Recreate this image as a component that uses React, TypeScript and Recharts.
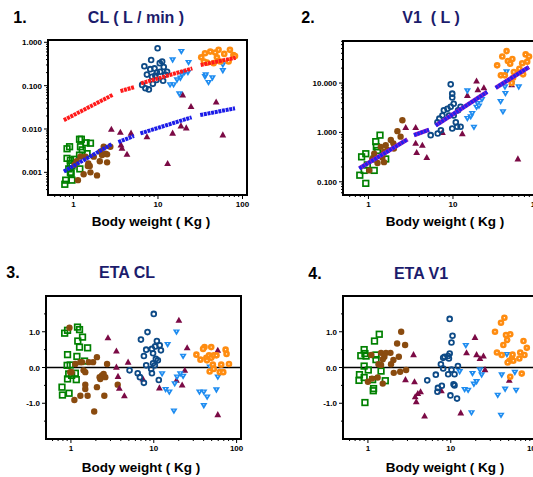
import React from "react";
import {
  ScatterChart,
  Scatter,
  XAxis,
  YAxis,
  ReferenceArea,
  ReferenceLine,
} from "recharts";

// body weight axis (shared by all 4 panels)
const wtMajor = [1, 10, 100];
const wtTicks = [0.6, 0.7, 0.8, 0.9, 1, 2, 3, 4, 5, 6, 7, 8, 9, 10, 20, 30, 40, 50, 60, 70, 80, 90, 100];

// panel 1: CL (L/min), [weight, value]
const clGreen = [[0.81, 0.00066], [0.79, 0.00053], [0.96, 0.00066], [0.84, 0.0035], [0.9, 0.0039], [0.84, 0.0021], [0.92, 0.0019], [0.88, 0.0012], [0.94, 0.00095], [0.92, 0.0016], [1.18, 0.0058], [1.24, 0.0058], [1.21, 0.0039], [1.27, 0.0033], [1.41, 0.0048], [1.18, 0.0025], [1.45, 0.0027], [1.19, 0.0012], [1.03, 0.002], [0.96, 0.0014], [1.59, 0.0047], [0.92, 0.001]];
const clBrown = [[1.13, 0.00066], [1.32, 0.0009], [1.56, 0.0014], [1.74, 0.0023], [1.9, 0.00085], [1.5, 0.0016], [1.39, 0.0023], [2.08, 0.003], [2.28, 0.0039], [2.05, 0.0018], [2.5, 0.0017], [2.4, 0.0027], [2.18, 0.0025], [2.73, 0.0039], [1.09, 0.0018], [1.21, 0.0023], [1.59, 0.001], [2.5, 0.0026], [1.03, 0.0015], [1.48, 0.0014]];
const clMaroon = [[2.81, 0.0098], [3.59, 0.0084], [3.65, 0.0043], [3.75, 0.0036], [4.3, 0.0026], [4.8, 0.008], [7.4, 0.0066], [13.0, 0.0016], [14.9, 0.008], [19.6, 0.061], [18.7, 0.0118], [21.6, 0.0106], [24.6, 0.033], [48.8, 0.042], [58.5, 0.0073]];
const clNavy = [[9.9, 0.73], [8.3, 0.39], [6.9, 0.28], [8.1, 0.24], [7.4, 0.18], [9.7, 0.2], [10.5, 0.33], [11.2, 0.36], [11.7, 0.27], [9.1, 0.25], [8.5, 0.16], [9.6, 0.135], [11.5, 0.13], [7.1, 0.087], [7.8, 0.082], [6.5, 0.104], [9.3, 0.17], [10.6, 0.21], [12.2, 0.18], [12.8, 0.21], [8.7, 0.11]];
const clSky = [[18.9, 0.61], [14.9, 0.39], [23, 0.34], [13.9, 0.104], [15.3, 0.104], [17.9, 0.064], [18.4, 0.148], [20.6, 0.2], [16.8, 0.135], [22.6, 0.2], [36, 0.16], [39.6, 0.117], [44, 0.15], [36.7, 0.176], [58.5, 0.3], [58.5, 0.22], [19.2, 0.176]];
const clOrange = [[32.5, 0.45], [36, 0.56], [41.6, 0.61], [47.5, 0.58], [52.1, 0.67], [60.8, 0.54], [71, 0.67], [78, 0.51], [38, 0.34], [45.5, 0.33], [54.5, 0.36], [68.5, 0.36], [81.5, 0.48], [35, 0.36], [49.8, 0.45]];
const clRedSegs = [
  [[0.77, 0.016], [2.9, 0.061]],
  [[3.6, 0.075], [5.2, 0.092]],
  [[6.3, 0.113], [25.5, 0.25]],
  [[32, 0.3], [83, 0.44]],
];
const clBlueSegs = [
  [[0.77, 0.00105], [2.86, 0.0045]],
  [[3.4, 0.005], [5.2, 0.0069]],
  [[6.2, 0.0079], [25, 0.0186]],
  [[31.6, 0.021], [81.5, 0.03]],
];

// panel 2: V1 (L)
const v1Green = [[0.79, 0.136], [0.93, 0.093], [0.83, 0.32], [0.93, 0.37], [1.17, 0.29], [1.37, 0.88], [1.22, 0.65], [1.28, 0.43], [1.17, 0.17], [0.97, 0.22], [1.6, 0.29], [0.89, 0.17], [1.24, 0.51]];
const v1Brown = [[2.52, 1.76], [2.2, 1.06], [1.84, 0.7], [1.6, 0.55], [1.4, 0.51], [1.53, 0.4], [1.28, 0.24], [1.53, 0.25], [1.17, 0.37], [1.02, 0.17], [2.0, 0.47], [2.4, 0.82], [1.46, 0.31], [1.97, 0.6], [1.68, 0.44], [1.11, 0.29]];
const v1Maroon = [[2.76, 1.25], [3.62, 1.25], [3.62, 0.6], [3.72, 0.39], [4.34, 0.55], [4.9, 0.31], [7.5, 1.0], [12.9, 0.94], [14.8, 5.6], [19.0, 11.0], [19.7, 7.3], [23.2, 8.0], [49.5, 9.2], [58.6, 0.29]];
const v1Navy = [[9.4, 9.4], [9.8, 6.1], [9.8, 5.1], [10.2, 3.8], [9.4, 3.3], [8.6, 3.0], [7.8, 2.8], [7.5, 2.2], [6.9, 1.9], [6.55, 1.6], [9.0, 2.2], [10.2, 2.2], [11.5, 2.8], [12.3, 3.3], [6.6, 0.95], [5.45, 0.88], [9.8, 1.2], [11.2, 1.3], [12.3, 1.3], [10.8, 1.6], [7.2, 1.1]];
const v1Sky = [[14.8, 6.9], [19.6, 3.8], [19.0, 3.2], [20.3, 3.4], [16.2, 2.06], [17.7, 1.26], [14.8, 1.9], [36.6, 4.2], [39, 2.6], [41.7, 6.1], [43, 16.7], [41.2, 8.3], [60, 8.3], [49.5, 9.7], [22, 4.6], [16.9, 2.4]];
const v1Orange = [[33.3, 22.8], [38.3, 34.5], [43.1, 44.3], [44.6, 27.8], [50.4, 30.7], [47.5, 24.5], [36.9, 14.3], [41, 14.3], [51.4, 12.8], [55.2, 15.4], [65.9, 25.2], [72.4, 38], [79.3, 34.5], [75.5, 27.1], [67.5, 15], [61, 19.5], [49.5, 10], [52.5, 16.7]];
const v1Segs = [
  [[0.78, 0.186], [2.89, 0.72]],
  [[3.46, 0.88], [5.2, 1.13]],
  [[6.25, 1.38], [25.4, 6.6]],
  [[32, 8.0], [79, 21]],
];

// panel 3: ETA CL
const etaClGreen = [[0.84, 0.96], [0.91, 1.04], [1.2, 1.13], [1.27, 1.06], [1.38, 0.85], [1.21, 0.74], [1.27, 0.57], [1.59, 0.55], [1.18, 0.31], [0.91, 0.36], [1.46, 0.18], [0.9, 0.06], [0.98, 0.07], [0.94, -0.18], [1.02, -0.22], [1.13, -0.16], [1.16, -0.34], [0.91, -0.32], [0.78, -0.55], [0.79, -0.77], [0.95, -0.72]];
const etaClBrown = [[0.96, 1.11], [2.06, 0.29], [2.73, 0.1], [1.64, 0.15], [1.85, 0.15], [1.36, 0.15], [1.3, 0.15], [1.13, 0.1], [1.42, -0.08], [1.49, -0.13], [0.98, -0.13], [2.22, -0.27], [2.37, -0.22], [2.48, -0.18], [2.26, -0.32], [2.6, -0.27], [2.06, -0.55], [1.49, -0.48], [1.49, -0.6], [1.3, -0.79], [1.59, -0.79], [1.1, -0.91], [1.91, -1.23], [2.53, -0.79], [3.67, -0.48], [1.02, -0.13]];
const etaClMaroon = [[2.8, 0.83], [3.54, 0.46], [3.54, 0.01], [3.7, -0.25], [3.84, -0.58], [4.9, 0.15], [4.42, -0.79], [7.4, -0.32], [11.7, -0.57], [20.1, 1.32], [25.3, 0.55], [23.7, -0.08], [22, -0.49], [18.8, -0.36], [59.3, 0.48], [59.3, -1.32]];
const etaClNavy = [[10, 1.5], [8.4, 0.99], [7.0, 0.78], [10.9, 0.74], [10.4, 0.59], [11.8, 0.62], [8.1, 0.5], [9.5, 0.52], [9.8, 0.4], [12.2, 0.48], [7.6, 0.32], [10.6, 0.24], [11.2, 0.2], [9.8, 0.12], [10.3, 0.06], [8.1, 0.06], [9.3, -0.04], [5.1, -0.08], [6.4, -0.16], [6.8, -0.27], [7.6, -0.43], [9.5, -0.16], [11.5, -0.35]];
const etaClSky = [[18.8, 0.99], [14.7, 0.64], [22.6, 0.31], [12.6, -0.18], [13.9, -0.62], [15.4, -0.69], [17.5, -1.22], [17.9, -0.46], [19.1, -0.27], [20.9, -0.18], [22.6, -0.25], [35.6, -0.69], [40.2, -0.69], [44.1, -0.83], [40.2, -1.07], [59.3, -0.27], [57, -0.63], [47.5, 0.01]];
const etaClOrange = [[32.7, 0.36], [36.6, 0.22], [41, 0.57], [39.4, 0.52], [43.1, 0.27], [46.4, 0.34], [49.4, 0.27], [53, 0.34], [57.2, 0.34], [49.4, 0.57], [51.7, 0.08], [53, -0.04], [47.3, -0.11], [62.8, -0.13], [69, -0.13], [65.2, 0.08], [73.6, 0.5], [75.6, 0.38], [80.9, 0.1], [43.9, 0.2]];

// panel 4: ETA V1
const etaV1Green = [[1.37, 0.93], [1.2, 0.74], [0.9, 0.5], [0.92, 0.39], [0.82, 0.33], [0.95, 0.32], [1.25, 0.35], [1.25, 0.22], [0.9, 0.04], [1.01, -0.07], [0.79, -0.2], [0.78, -0.36], [0.9, -0.28], [1.14, -0.34], [1.44, -0.1], [1.62, -0.37], [1.17, -0.59], [1.16, -0.65], [0.92, -0.98]];
const etaV1Brown = [[2.52, 1.0], [2.25, 0.67], [2.81, 0.63], [2.36, 0.3], [1.44, 0.41], [1.65, 0.41], [1.87, 0.41], [1.58, 0.3], [1.51, 0.23], [1.34, 0.09], [1.44, 0.07], [1.9, 0.09], [2.03, 0.21], [1.1, 0.35], [2.45, -0.12], [2.05, -0.15], [2.89, -0.07], [1.31, -0.28], [1.51, -0.45], [1.12, -0.31], [1.0, -0.4]];
const etaV1Maroon = [[3.55, 0.36], [3.65, -0.4], [2.84, -0.34], [3.72, -0.82], [3.83, -0.96], [4.0, -0.73], [4.32, -0.68], [4.83, -1.36], [7.7, -0.65], [13.2, -1.27], [15.5, 0.41], [19.6, 0.84], [20.5, 0.36], [22.5, 0.25], [24.8, 0.32], [25.9, -0.06], [50.9, -0.36]];
const etaV1Navy = [[9.7, 1.36], [10.5, 0.89], [10.2, 0.7], [9.7, 0.39], [9.3, 0.32], [8.4, 0.3], [8.1, 0.27], [9.5, 0.25], [7.6, 0.09], [8.1, -0.03], [10.2, -0.06], [12.2, 0.04], [9.3, -0.19], [11.1, -0.19], [6.6, -0.2], [5.2, -0.36], [7.0, -0.57], [6.9, -0.68], [7.8, -0.51], [9.9, -0.78], [10.8, -0.47], [11.1, -0.5], [11.9, -0.87]];
const etaV1Sky = [[15.2, 0.61], [12.8, -0.12], [18.3, -0.17], [14.7, -0.62], [16.2, -0.64], [19.0, -0.47], [20.5, -0.4], [22.5, -0.07], [23.6, -0.21], [17.8, -1.27], [36.9, -0.78], [41.2, -0.21], [40.4, -1.34], [45.3, -0.61], [47.6, 0.36], [59.4, -0.14], [61.5, -0.64]];
const etaV1Orange = [[34.2, 1.0], [40.4, 1.25], [44.4, 1.39], [46.4, 0.91], [52.2, 0.93], [48.0, 0.77], [43.1, 0.63], [36.1, 0.42], [41.2, 0.35], [54.6, 0.25], [51.1, 0.19], [48.6, 0.14], [56.9, 0.19], [67.3, 0.25], [75.5, 0.74], [82.8, 0.55], [77.6, 0.35], [71.9, -0.17], [52.2, -0.26], [69, 0.42], [55.7, 0.36]];

const clYMajor = [0.001, 0.01, 0.1, 1];
const clYTicks = [0.0004, 0.0005, 0.0006, 0.0007, 0.0008, 0.0009, 0.001, 0.002, 0.003, 0.004, 0.005, 0.006, 0.007, 0.008, 0.009, 0.01, 0.02, 0.03, 0.04, 0.05, 0.06, 0.07, 0.08, 0.09, 0.1, 0.2, 0.3, 0.4, 0.5, 0.6, 0.7, 0.8, 0.9, 1];
const v1YMajor = [0.1, 1, 10];
const v1YTicks = [0.06, 0.07, 0.08, 0.09, 0.1, 0.2, 0.3, 0.4, 0.5, 0.6, 0.7, 0.8, 0.9, 1, 2, 3, 4, 5, 6, 7, 8, 9, 10, 20, 30, 40, 50, 60, 70];
const etaYMajor = [-1, 0, 1];
const etaYTicks = [-1.5, -1, -0.5, 0, 0.5, 1, 1.5];

const FONT = '"Liberation Sans", Arial, Helvetica, sans-serif';
const TITLE = "#1c1c6c";

const pts = (arr: number[][]) => arr.map(([x, y]) => ({ x, y }));

type Kind = "square" | "dot" | "tri" | "ring" | "down" | "blob";

function Marker({ kind, cx, cy }: { kind: Kind; cx: number; cy: number }) {
  if (cx == null || cy == null) return <g />;
  switch (kind) {
    case "square":
      return <rect x={cx - 2.8} y={cy - 2.8} width={5.6} height={5.6} fill="none" stroke="#008000" strokeWidth={1.7} />;
    case "dot":
      return <circle cx={cx} cy={cy} r={3.2} fill="#8a4b0f" />;
    case "tri":
      return <path d={`M${cx},${cy - 3.6}L${cx + 3.4},${cy + 2.5}L${cx - 3.4},${cy + 2.5}Z`} fill="#7b0a45" />;
    case "ring":
      return <circle cx={cx} cy={cy} r={2.4} fill="none" stroke="#0d4a86" strokeWidth={1.8} />;
    case "down":
      return (
        <g>
          <path d={`M${cx - 3.6},${cy - 2.7}L${cx + 3.6},${cy - 2.7}L${cx},${cy + 3.4}Z`} fill="#1e8cf0" />
          <circle cx={cx} cy={cy - 1} r={0.6} fill="#fff" />
        </g>
      );
    default:
      return (
        <g>
          <circle cx={cx} cy={cy} r={3.3} fill="#ff8c10" />
          <circle cx={cx} cy={cy} r={0.7} fill="#fff" />
        </g>
      );
  }
}

function WtTick(props: any) {
  const { x, y, payload } = props;
  const major = wtMajor.includes(payload.value);
  return (
    <g>
      <line x1={x} x2={x} y1={y} y2={y + (major ? 4 : 2)} stroke="#000" />
      {major && (
        <text x={x} y={y + 12} textAnchor="middle" fontSize={8} fontWeight="bold" fontFamily={FONT} fill="#000">
          {payload.value}
        </text>
      )}
    </g>
  );
}

const makeYTick = (majors: number[], digits: number) => (props: any) => {
  const { x, y, payload } = props;
  const major = majors.includes(payload.value);
  return (
    <g>
      <line x1={x} x2={x - (major ? 4 : 2)} y1={y} y2={y} stroke="#000" />
      {major && (
        <text x={x - 6} y={y + 3} textAnchor="end" fontSize={8} fontWeight="bold" fontFamily={FONT} fill="#000">
          {payload.value.toFixed(digits)}
        </text>
      )}
    </g>
  );
};

type Group = { data: number[][]; kind: Kind };
type LineStyle = { stroke: string; width: number; dash?: string };
type LineSet = { segs: number[][][]; styles: LineStyle[] };

interface PanelProps {
  left: number;
  top: number;
  width: number;
  height: number;
  yWidth: number;
  mTop: number;
  mRight: number;
  xHeight: number;
  log: boolean;
  yDomain: [number, number];
  yTicks: number[];
  yTick: (p: any) => React.ReactElement;
  groups: Group[];
  lines?: LineSet[];
  zero?: boolean;
}

function Panel(p: PanelProps) {
  const xDomain: [number, number] = [0.5, 113];
  return (
    <div style={{ position: "absolute", left: p.left, top: p.top }}>
      <ScatterChart
        width={p.width}
        height={p.height}
        margin={{ top: p.mTop, right: p.mRight, bottom: 0, left: 0 }}
      >
        <XAxis
          type="number"
          dataKey="x"
          scale="log"
          domain={xDomain}
          allowDataOverflow
          ticks={wtTicks}
          interval={0}
          height={p.xHeight}
          axisLine={false}
          tickLine={false}
          tickSize={0}
          tickMargin={0}
          tick={WtTick}
        />
        <YAxis
          type="number"
          dataKey="y"
          scale={p.log ? "log" : "linear"}
          domain={p.yDomain}
          allowDataOverflow
          ticks={p.yTicks}
          interval={0}
          width={p.yWidth}
          axisLine={false}
          tickLine={false}
          tickSize={0}
          tickMargin={0}
          tick={p.yTick}
        />
        {p.zero && <ReferenceLine y={0} stroke="#000" strokeWidth={1.5} />}
        {p.groups.map((g, i) => (
          <Scatter
            key={"g" + i}
            data={pts(g.data)}
            isAnimationActive={false}
            shape={(s: any) => <Marker kind={g.kind} cx={s.cx} cy={s.cy} />}
          />
        ))}
        {(p.lines || []).flatMap((ls, i) =>
          ls.styles.flatMap((st, j) =>
            ls.segs.map((seg, k) => (
              <Scatter
                key={`l${i}-${j}-${k}`}
                data={pts(seg)}
                isAnimationActive={false}
                line={{ stroke: st.stroke, strokeWidth: st.width, strokeDasharray: st.dash }}
                shape={() => <g />}
              />
            ))
          )
        )}
        <ReferenceArea
          x1={xDomain[0]}
          x2={xDomain[1]}
          y1={p.yDomain[0]}
          y2={p.yDomain[1]}
          fill="none"
          stroke="#000"
          strokeWidth={2}
        />
      </ScatterChart>
    </div>
  );
}

function Label({ x, y, text, size, color, bold = true }: { x: number; y: number; text: string; size: number; color: string; bold?: boolean }) {
  return (
    <div
      style={{
        position: "absolute",
        left: x,
        top: y,
        transform: "translate(-50%, -50%)",
        whiteSpace: "pre",
        fontSize: size,
        fontWeight: bold ? "bold" : "normal",
        color,
        lineHeight: 1,
        fontFamily: FONT,
      }}
    >
      {text}
    </div>
  );
}

const groupsOf = (a: number[][][]): Group[] => {
  const kinds: Kind[] = ["square", "dot", "tri", "ring", "down", "blob"];
  return a.map((data, i) => ({ data, kind: kinds[i] }));
};

export default function App() {
  const clTick = makeYTick(clYMajor, 3);
  const v1Tick = makeYTick(v1YMajor, 3);
  const etaTick = makeYTick(etaYMajor, 1);
  return (
    <div
      style={{
        position: "absolute",
        left: 0,
        top: 0,
        width: 533,
        height: 477,
        overflow: "hidden",
        background: "#fff",
        fontFamily: FONT,
      }}
    >
      <Panel
        left={0}
        top={0}
        width={266}
        height={240}
        yWidth={48}
        mTop={40}
        mRight={19}
        xHeight={45}
        log
        yDomain={[0.0003, 1.13]}
        yTicks={clYTicks}
        yTick={clTick}
        groups={groupsOf([clGreen, clBrown, clMaroon, clNavy, clSky, clOrange])}
        lines={[
          { segs: clRedSegs, styles: [{ stroke: "#ff1a1a", width: 4, dash: "3 0.7" }] },
          { segs: clBlueSegs, styles: [{ stroke: "#1c1ce8", width: 4, dash: "3 0.7" }] },
        ]}
      />
      <Panel
        left={266}
        top={0}
        width={300}
        height={240}
        yWidth={77}
        mTop={41}
        mRight={24}
        xHeight={45}
        log
        yDomain={[0.054, 71]}
        yTicks={v1YTicks}
        yTick={v1Tick}
        groups={groupsOf([v1Green, v1Brown, v1Maroon, v1Navy, v1Sky, v1Orange])}
        lines={[
          {
            segs: v1Segs,
            styles: [
              { stroke: "#9a1cc0", width: 4.4 },
              { stroke: "#2020f0", width: 3.6, dash: "2.6 0.9" },
            ],
          },
        ]}
      />
      <Panel
        left={0}
        top={240}
        width={266}
        height={237}
        yWidth={46}
        mTop={56}
        mRight={25}
        xHeight={38}
        log={false}
        yDomain={[-2, 2]}
        yTicks={etaYTicks}
        yTick={etaTick}
        groups={groupsOf([etaClGreen, etaClBrown, etaClMaroon, etaClNavy, etaClSky, etaClOrange])}
        zero
      />
      <Panel
        left={266}
        top={240}
        width={300}
        height={237}
        yWidth={77}
        mTop={56}
        mRight={28}
        xHeight={38}
        log={false}
        yDomain={[-2, 2]}
        yTicks={etaYTicks}
        yTick={etaTick}
        groups={groupsOf([etaV1Green, etaV1Brown, etaV1Maroon, etaV1Navy, etaV1Sky, etaV1Orange])}
        zero
      />

      <Label x={20} y={18} text="1." size={16} color="#000" />
      <Label x={136} y={18} text="CL ( L / min )" size={16} color={TITLE} />
      <Label x={151} y={222} text="Body weight ( Kg )" size={13.5} color="#000" />

      <Label x={308} y={18} text="2." size={16} color="#000" />
      <Label x={431} y={18} text="V1  ( L )" size={16} color={TITLE} />
      <Label x={445} y={222} text="Body weight ( Kg )" size={13.5} color="#000" />

      <Label x={13} y={273} text="3." size={16} color="#000" />
      <Label x={127} y={273} text="ETA CL" size={16} color={TITLE} />
      <Label x={141} y={468} text="Body weight ( Kg )" size={13.5} color="#000" />

      <Label x={315} y={274} text="4." size={16} color="#000" />
      <Label x={421} y={274} text="ETA V1" size={16} color={TITLE} />
      <Label x={445} y={468} text="Body weight ( Kg )" size={13.5} color="#000" />
    </div>
  );
}
